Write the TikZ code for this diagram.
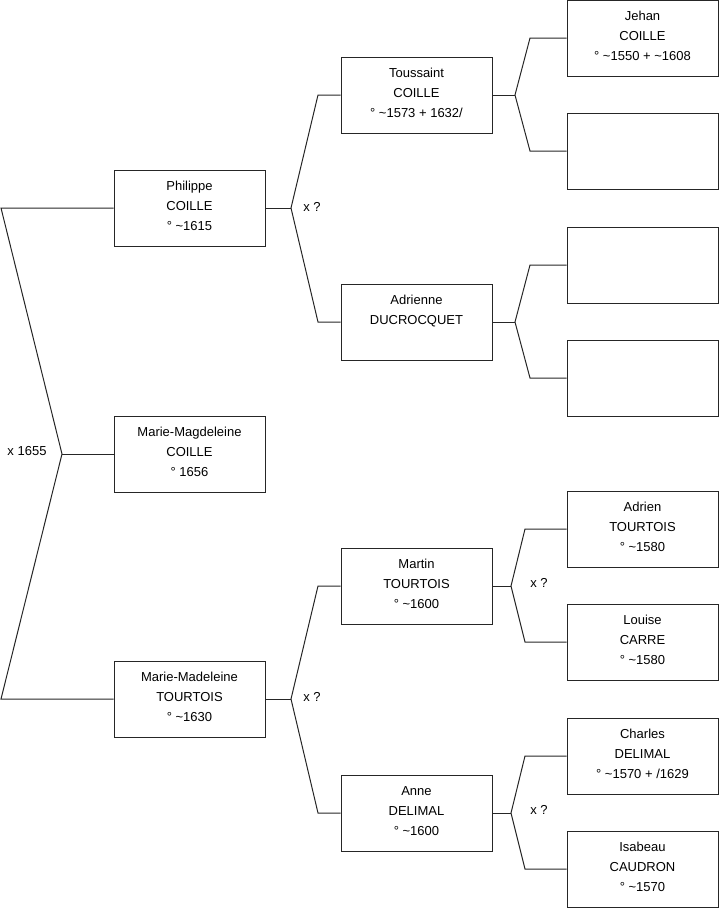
\documentclass[tikz,border=0pt]{standalone}
\usepackage{fontspec}
\setmainfont{Liberation Sans}
\begin{document}
\begin{tikzpicture}[x=1pt,y=-1pt,
  person/.style={draw=black!85,line width=1pt,rectangle,minimum width=151pt,minimum height=76pt,inner sep=0pt,align=center,text depth=3.5pt,font=\fontsize{13}{20}\selectfont},
  link/.style={draw=black!85,line width=1pt},
  lbl/.style={font=\fontsize{13}{14}\selectfont,inner sep=0pt}]
\useasboundingbox (0,0) rectangle (719,908);
\newcommand{\tl}{\textasciitilde}
% level 1
\node[person] (p1) at (189.5,208) {Philippe\\COILLE\\° \tl1615};
\node[person] (p2) at (189.5,454) {Marie-Magdeleine\\COILLE\\° 1656};
\node[person] (p3) at (189.5,699) {Marie-Madeleine\\TOURTOIS\\° \tl1630};
% level 2
\node[person] (p4) at (416.5,95) {Toussaint\\COILLE\\° \tl1573 + 1632/};
\node[person] (p5) at (416.5,322) {Adrienne\\DUCROCQUET\\\mbox{}};
\node[person] (p6) at (416.5,586) {Martin\\TOURTOIS\\° \tl1600};
\node[person] (p7) at (416.5,813) {Anne\\DELIMAL\\° \tl1600};
% level 3
\node[person] (p8) at (642.5,38) {Jehan\\COILLE\\° \tl1550 + \tl1608};
\node[person] (p9) at (642.5,151) {};
\node[person] (p10) at (642.5,265) {};
\node[person] (p11) at (642.5,378) {};
\node[person] (p12) at (642.5,529) {Adrien\\TOURTOIS\\° \tl1580};
\node[person] (p13) at (642.5,642) {Louise\\CARRE\\° \tl1580};
\node[person] (p14) at (642.5,756) {Charles\\DELIMAL\\° \tl1570 + /1629};
\node[person] (p15) at (642.5,869) {Isabeau\\CAUDRON\\° \tl1570};
% root connector
\coordinate (rt) at (1,208);
\coordinate (rv) at (62,454);
\coordinate (rb) at (1,699);
\draw[link] (p1.west) -- (rt) -- (rv) -- (rb) -- (p3.west);
\draw[link] (rv) -- (p2.west);
\node[lbl] (l0) at (27,451) {x 1655};
% Philippe parents
\coordinate (a1) at (291,208);
\coordinate (a1t) at (318,95);
\coordinate (a1b) at (318,322);
\draw[link] (p1.east) -- (a1);
\draw[link] (p4.west) -- (a1t) -- (a1) -- (a1b) -- (p5.west);
\node[lbl] (l1) at (312,207) {x ?};
% Marie-Madeleine parents
\coordinate (a2) at (291,699);
\coordinate (a2t) at (318,586);
\coordinate (a2b) at (318,813);
\draw[link] (p3.east) -- (a2);
\draw[link] (p6.west) -- (a2t) -- (a2) -- (a2b) -- (p7.west);
\node[lbl] (l2) at (312,697) {x ?};
% Toussaint parents
\coordinate (b1) at (515,95);
\coordinate (b1t) at (530,38);
\coordinate (b1b) at (530,151);
\draw[link] (p4.east) -- (b1);
\draw[link] (p8.west) -- (b1t) -- (b1) -- (b1b) -- (p9.west);
% Adrienne parents
\coordinate (b2) at (515,322);
\coordinate (b2t) at (530,265);
\coordinate (b2b) at (530,378);
\draw[link] (p5.east) -- (b2);
\draw[link] (p10.west) -- (b2t) -- (b2) -- (b2b) -- (p11.west);
% Martin parents
\coordinate (b3) at (511,586);
\coordinate (b3t) at (525,529);
\coordinate (b3b) at (525,642);
\draw[link] (p6.east) -- (b3);
\draw[link] (p12.west) -- (b3t) -- (b3) -- (b3b) -- (p13.west);
\node[lbl] (l3) at (539,583) {x ?};
% Anne parents
\coordinate (b4) at (511,813);
\coordinate (b4t) at (525,756);
\coordinate (b4b) at (525,869);
\draw[link] (p7.east) -- (b4);
\draw[link] (p14.west) -- (b4t) -- (b4) -- (b4b) -- (p15.west);
\node[lbl] (l4) at (539,810) {x ?};
\end{tikzpicture}
\end{document}
